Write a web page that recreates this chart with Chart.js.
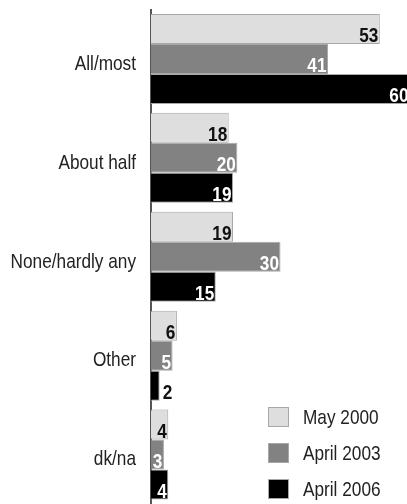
<!DOCTYPE html>
<html>
<head>
<meta charset="utf-8">
<script src="https://cdn.jsdelivr.net/npm/chart.js@4/dist/chart.umd.min.js"></script>
<style>
  html, body { margin: 0; padding: 0; background: #fff; }
  #wrap { width: 407px; height: 504px; position: relative; }
</style>
</head>
<body>
<div id="wrap"><canvas id="myChart"></canvas></div>
<script>
/* categorias e series */
const categorias = ['All/most', 'About half', 'None/hardly any', 'Other', 'dk/na'];
const series = ['May 2000', 'April 2003', 'April 2006'];
const may2000 = [53, 18, 19, 6, 4];
const april2003 = [41, 20, 30, 5, 3];
const april2006 = [60, 19, 15, 2, 4];

const cores = ['#dedede', '#828282', '#000000'];
const coresTexto = ['#111111', '#ffffff', '#ffffff'];
const fonte = "'Liberation Sans', Arial, sans-serif";
const estreito = 0.82; // fonte condensada (escala horizontal)

function textoEstreito(ctx, txt, x, y, align) {
  ctx.save();
  ctx.translate(x, y);
  ctx.scale(estreito, 1);
  ctx.textAlign = align;
  ctx.fillText(txt, 0, 0);
  ctx.restore();
}

/* nomes das categorias no eixo y */
const nomesEixo = {
  id: 'nomesEixo',
  afterDraw(chart) {
    const ctx = chart.ctx;
    const escala = chart.scales.y;
    ctx.save();
    ctx.font = '21px ' + fonte;
    ctx.fillStyle = '#222222';
    ctx.textBaseline = 'middle';
    chart.data.labels.forEach((nome, i) => {
      textoEstreito(ctx, nome, escala.right - 15, escala.getPixelForTick(i) + 5, 'right');
    });
    ctx.restore();
  }
};

/* rotulos de valor no fim de cada barra */
const rotulos = {
  id: 'rotulos',
  afterDatasetsDraw(chart) {
    const ctx = chart.ctx;
    ctx.save();
    ctx.font = 'bold 21px ' + fonte;
    ctx.textBaseline = 'alphabetic';
    chart.data.datasets.forEach((ds, i) => {
      chart.getDatasetMeta(i).data.forEach((bar, j) => {
        const txt = String(ds.data[j]);
        const w = ctx.measureText(txt).width * estreito;
        const largura = bar.x - bar.base;
        const yb = bar.y + bar.height / 2 - 2;
        if (w + 3 > largura) {
          ctx.fillStyle = '#111111';
          textoEstreito(ctx, txt, bar.x + 3, yb, 'left');
        } else {
          ctx.fillStyle = coresTexto[i];
          textoEstreito(ctx, txt, bar.x - 1.5, yb, 'right');
        }
      });
    });
    ctx.restore();
  }
};

/* legenda desenhada no canto inferior direito */
const legenda = {
  id: 'legenda',
  afterDraw(chart) {
    const ctx = chart.ctx;
    ctx.save();
    ctx.font = '21px ' + fonte;
    ctx.textBaseline = 'middle';
    chart.data.datasets.forEach((ds, i) => {
      const y = 407 + i * 36;
      ctx.fillStyle = ds.backgroundColor;
      ctx.fillRect(268, y, 21, 20);
      ctx.strokeStyle = '#a8a8a8';
      ctx.lineWidth = 1;
      ctx.strokeRect(268.5, y + 0.5, 20, 19);
      ctx.fillStyle = '#222222';
      textoEstreito(ctx, ds.label, 303, y + 11, 'left');
    });
    ctx.restore();
  }
};

const dataBarras = {
  labels: categorias,
  datasets: [may2000, april2003, april2006].map((valores, i) => ({
    label: series[i],
    data: valores,
    backgroundColor: cores[i],
    borderColor: '#a8a8a8',
    borderWidth: 1,
    borderSkipped: 'start',
    categoryPercentage: 0.91,
    barPercentage: 1
  }))
};

const configBarras = {
  type: 'bar',
  data: dataBarras,
  options: {
    indexAxis: 'y',
    responsive: true,
    maintainAspectRatio: false,
    animation: false,
    layout: { padding: { top: 9.5, right: 0, bottom: 0, left: 0 } },
    scales: {
      x: {
        display: false,
        min: 0,
        max: 59.3
      },
      y: {
        afterFit(scale) {
          scale.width = 151;
          scale.paddingTop = 0;
          scale.paddingBottom = 0;
        },
        grid: { display: false, drawTicks: false },
        border: { display: true, color: '#555555', width: 2 },
        ticks: { display: false }
      }
    },
    plugins: {
      legend: { display: false },
      tooltip: { enabled: false }
    }
  },
  plugins: [rotulos, nomesEixo, legenda]
};

const myChart = new Chart(document.getElementById('myChart'), configBarras);
</script>
</body>
</html>
